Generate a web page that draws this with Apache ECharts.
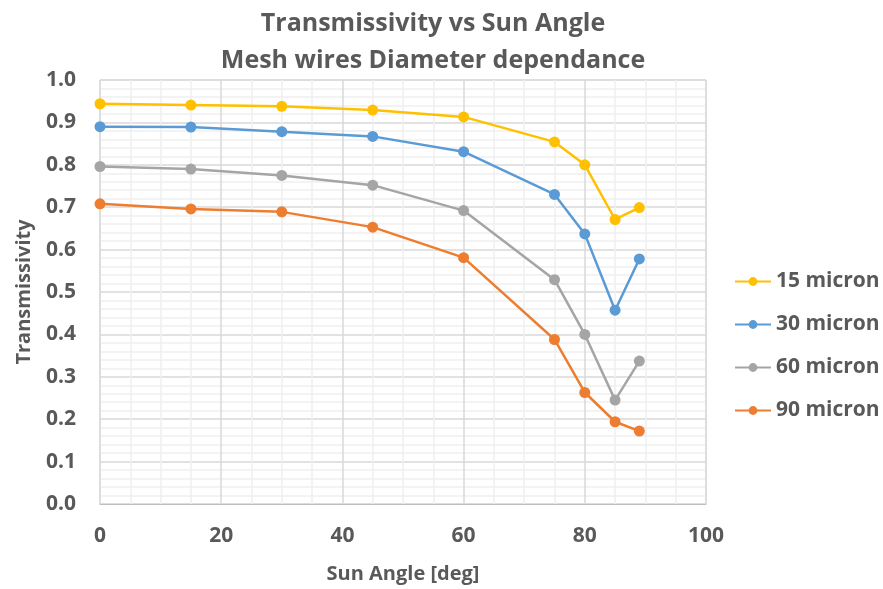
<!DOCTYPE html>
<html><head><meta charset="utf-8">
<script src="https://cdn.jsdelivr.net/npm/echarts@6/dist/echarts.min.js"></script>
<style>html,body{margin:0;padding:0;background:#fff}#c{width:883px;height:589px}</style>
</head><body><div id="c"></div>
<script>
var angles = [0, 15, 30, 45, 60, 75, 80, 85, 89];
var seriesNames = ['15 micron', '30 micron', '60 micron', '90 micron'];
var t15 = [0.944, 0.941, 0.938, 0.929, 0.913, 0.854, 0.800, 0.671, 0.699];
var t30 = [0.890, 0.889, 0.878, 0.867, 0.831, 0.730, 0.637, 0.457, 0.578];
var t60 = [0.796, 0.790, 0.775, 0.752, 0.692, 0.529, 0.400, 0.245, 0.337];
var t90 = [0.708, 0.696, 0.689, 0.653, 0.581, 0.388, 0.263, 0.194, 0.172];
var colors = ['#FFC000', '#5B9BD5', '#A5A5A5', '#ED7D31'];
var values = [t15, t30, t60, t90];

var font = '"Open Sans", "Noto Sans", sans-serif';
var txt = '#595959';
var chart = echarts.init(document.getElementById('c'));
chart.setOption({
  animation: false,
  backgroundColor: '#fff',
  title: {
    text: 'Transmissivity vs Sun Angle\nMesh wires Diameter dependance',
    left: 428, top: 0, textAlign: 'center',
    textStyle: {fontFamily: font, fontWeight: 'bold', fontSize: 25, color: txt, lineHeight: 37}
  },
  legend: {
    orient: 'vertical', left: 729, top: 266, itemGap: 22,
    itemWidth: 36, itemHeight: 11,
    textStyle: {fontFamily: font, fontWeight: 'bold', fontSize: 21, color: txt},
    data: seriesNames
  },
  grid: {left: 100, right: 177, top: 80, bottom: 84, show: true, borderColor: '#d9d9d9', borderWidth: 1},
  xAxis: {
    type: 'value', min: 0, max: 100, interval: 20,
    name: 'Sun Angle [deg]', nameLocation: 'middle', nameGap: 60,
    nameTextStyle: {fontFamily: font, fontWeight: 'bold', fontSize: 20, color: txt},
    axisLine: {show: true, lineStyle: {color: '#bfbfbf'}},
    axisTick: {show: false},
    axisLabel: {fontFamily: font, fontWeight: 'bold', fontSize: 21, color: txt, margin: 22},
    splitLine: {show: true, lineStyle: {color: '#d9d9d9', width: 1.5}},
    minorTick: {show: false, splitNumber: 4},
    minorSplitLine: {show: true, lineStyle: {color: '#f0f0f0', width: 1.5}}
  },
  yAxis: {
    type: 'value', min: 0, max: 1, interval: 0.1,
    name: 'Transmissivity', nameLocation: 'middle', nameGap: 66, nameRotate: 90,
    nameTextStyle: {fontFamily: font, fontWeight: 'bold', fontSize: 20, color: txt},
    axisLine: {show: false},
    axisTick: {show: false},
    axisLabel: {fontFamily: font, fontWeight: 'bold', fontSize: 21, color: txt, margin: 24,
      formatter: function (v) { return v.toFixed(1); }},
    splitLine: {show: true, lineStyle: {color: '#d9d9d9', width: 1.5}},
    minorTick: {show: false, splitNumber: 5},
    minorSplitLine: {show: true, lineStyle: {color: '#f0f0f0', width: 1.5}}
  },
  series: seriesNames.map(function (n, i) {
    return {
      name: n, type: 'line',
      data: angles.map(function (a, j) { return [a, values[i][j]]; }),
      symbol: 'circle', symbolSize: 11,
      itemStyle: {color: colors[i]},
      lineStyle: {color: colors[i], width: 2.5}
    };
  })
});
</script></body></html>
